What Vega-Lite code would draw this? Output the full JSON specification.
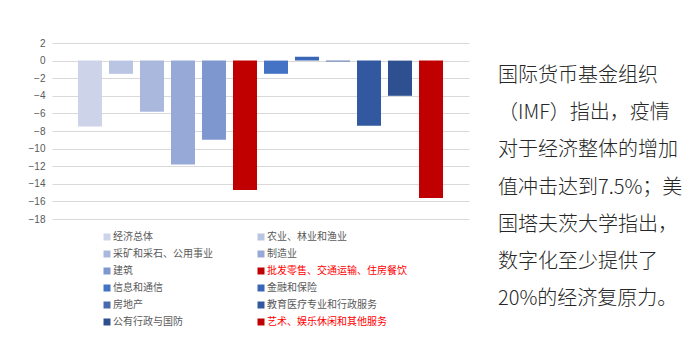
{
  "$schema": "https://vega.github.io/schema/vega-lite/v6.json",
  "background": "white",
  "padding": {"left": 28, "top": 38, "right": 0, "bottom": 0},
  "spacing": 29,
  "config": {"view": {"stroke": null}, "font": "Noto Sans CJK SC"},
  "datasets": {
    "sectors": [
      {"sector": "经济总体", "value": -7.5},
      {"sector": "农业、林业和渔业", "value": -1.5},
      {"sector": "采矿和采石、公用事业", "value": -5.8},
      {"sector": "制造业", "value": -11.8},
      {"sector": "建筑", "value": -9.0},
      {"sector": "批发零售、交通运输、住房餐饮", "value": -14.7},
      {"sector": "信息和通信", "value": -1.5},
      {"sector": "金融和保险", "value": 0.45},
      {"sector": "房地产", "value": -0.1},
      {"sector": "教育医疗专业和行政服务", "value": -7.4},
      {"sector": "公有行政与国防", "value": -4.0},
      {"sector": "艺术、娱乐休闲和其他服务", "value": -15.6}
    ],
    "notes": [
      {"line": 1, "text": "国际货币基金组织"},
      {"line": 2, "text": "（IMF）指出，疫情"},
      {"line": 3, "text": "对于经济整体的增加"},
      {"line": 4, "text": "值冲击达到7.5%；美"},
      {"line": 5, "text": "国塔夫茨大学指出，"},
      {"line": 6, "text": "数字化至少提供了"},
      {"line": 7, "text": "20%的经济复原力。"}
    ]
  },
  "hconcat": [
    {
      "width": 417,
      "height": 176,
      "data": {"name": "sectors"},
      "mark": {"type": "bar"},
      "encoding": {
        "x": {
          "field": "sector", "type": "nominal", "sort": null, "axis": null,
          "scale": {"paddingInner": 0.226, "paddingOuter": 0.838}
        },
        "y": {
          "field": "value", "type": "quantitative",
          "scale": {"domain": [-18, 2], "nice": false, "zero": false},
          "axis": {
            "title": null, "values": [-18, -16, -14, -12, -10, -8, -6, -4, -2, 0, 2],
            "grid": true, "gridColor": "#D9D9D9", "gridWidth": 1,
            "domain": false, "ticks": false, "labelPadding": 7,
            "labelColor": "#595959", "labelFontSize": 10, "labelFont": "Liberation Sans"
          }
        },
        "color": {
          "field": "sector", "type": "nominal", "sort": null,
          "scale": {
            "domain": ["经济总体", "农业、林业和渔业", "采矿和采石、公用事业", "制造业", "建筑", "批发零售、交通运输、住房餐饮", "信息和通信", "金融和保险", "房地产", "教育医疗专业和行政服务", "公有行政与国防", "艺术、娱乐休闲和其他服务"],
            "range": ["#CDD4E9", "#BAC4E3", "#ABB8DD", "#97A9D6", "#7F97CF", "#C00000", "#4472C4", "#3A66B8", "#4A6AAF", "#3259A0", "#2F5090", "#C00000"]
          },
          "legend": {
            "title": null, "orient": "none", "legendX": 50, "legendY": 189,
            "direction": "horizontal", "columns": 2, "columnPadding": 43, "rowPadding": 7,
            "symbolType": "square", "symbolSize": 49, "symbolStrokeWidth": 0,
            "labelFontSize": 10, "labelColor": "#595959", "labelOffset": 1, "labelLimit": 250,
            "encode": {
              "labels": {
                "update": {
                  "fill": {"signal": "indexof(['批发零售、交通运输、住房餐饮','艺术、娱乐休闲和其他服务'], datum.label) >= 0 ? '#FF0000' : '#595959'"}
                }
              }
            }
          }
        }
      }
    },
    {
      "width": 200,
      "height": 289,
      "data": {"name": "notes"},
      "mark": {"type": "text", "align": "left", "baseline": "middle", "fontSize": 20, "color": "#262626", "font": "Noto Sans CJK SC", "fontWeight": 300},
      "encoding": {
        "y": {"field": "line", "type": "ordinal", "axis": null, "scale": {"type": "point", "padding": 0.887}},
        "x": {"datum": 0, "type": "quantitative", "axis": null, "scale": {"domain": [0, 1]}},
        "text": {"field": "text"}
      }
    }
  ]
}
